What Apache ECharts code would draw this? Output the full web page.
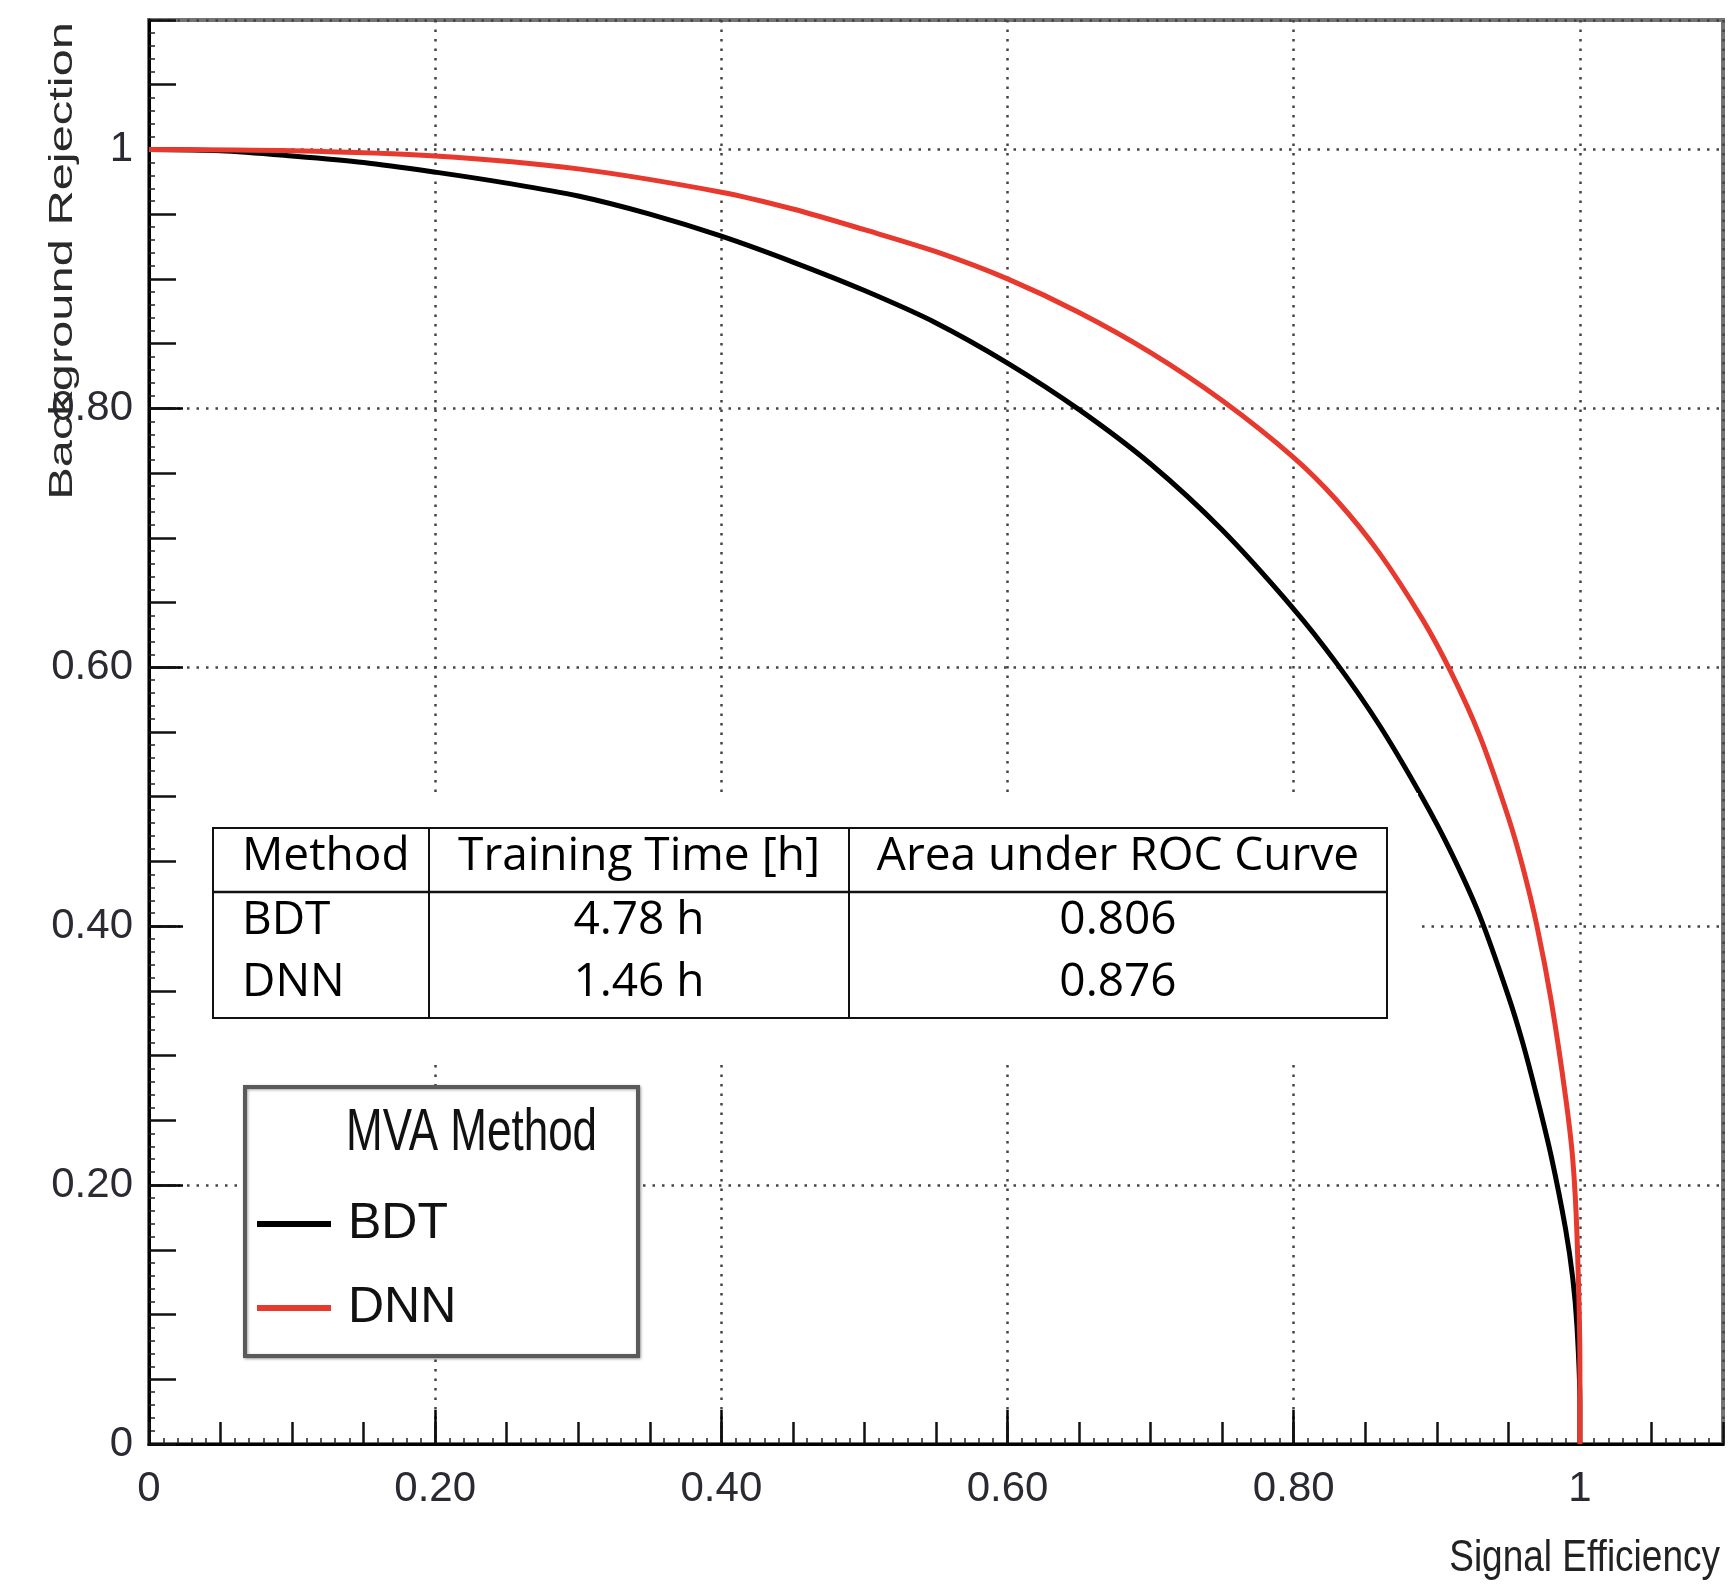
<!DOCTYPE html>
<html><head><meta charset="utf-8">
<script src="https://cdn.jsdelivr.net/npm/echarts@6/dist/echarts.min.js"></script>
<style>html,body{margin:0;padding:0;background:#fff}#c{width:1731px;height:1585px}</style>
</head><body><div id="c"></div>
<script>
// ---- data ----
const seriesNames = ['BDT', 'DNN'];
const bdtEff = [0, 0.05, 0.1, 0.15, 0.2, 0.25, 0.3, 0.35, 0.4, 0.45, 0.5, 0.55, 0.6, 0.65, 0.7, 0.75, 0.8, 0.83, 0.86, 0.89, 0.91, 0.93, 0.95, 0.96, 0.97, 0.98, 0.99, 0.995, 0.998, 1.0, 1.0];
const bdtRej = [1.0, 0.999, 0.995, 0.99, 0.9825, 0.974, 0.964, 0.95, 0.933, 0.913, 0.891, 0.866, 0.835, 0.799, 0.757, 0.706, 0.645, 0.603, 0.555, 0.499, 0.457, 0.408, 0.346, 0.31, 0.268, 0.222, 0.166, 0.128, 0.09, 0.03, 0];
const dnnEff = [0, 0.1, 0.2, 0.3, 0.4, 0.45, 0.5, 0.55, 0.6, 0.65, 0.7, 0.75, 0.8, 0.83, 0.86, 0.89, 0.91, 0.93, 0.95, 0.96, 0.97, 0.98, 0.99, 0.995, 0.998, 1.0, 1.0];
const dnnRej = [1.0, 0.999, 0.995, 0.985, 0.967, 0.954, 0.938, 0.921, 0.90, 0.874, 0.843, 0.806, 0.762, 0.729, 0.688, 0.637, 0.596, 0.547, 0.484, 0.446, 0.40, 0.342, 0.268, 0.22, 0.16, 0.06, 0];
const xTickLabels = ['0', '0.20', '0.40', '0.60', '0.80', '1'];
const yTickLabels = ['0', '0.20', '0.40', '0.60', '0.80', '1'];
const tableHeader = ['Method', 'Training Time [h]', 'Area under ROC Curve'];
const tableMethods = ['BDT', 'DNN'];
const trainingTimes = ['4.78 h', '1.46 h'];
const aucValues = ['0.806', '0.876'];
const legendTitle = 'MVA Method';
const xTitle = 'Signal Efficiency';
const yTitle = 'Background Rejection';

// ---- chart ----
const SANS = '"Liberation Sans", Arial, sans-serif';
const TABLEF = '"Open Sans", "Noto Sans", sans-serif';
function tickFmt(labels) {
  return function (v) {
    const i = Math.round(v / 0.2);
    if (Math.abs(v - i * 0.2) > 1e-6 || i >= labels.length) return '';
    return labels[i];
  };
}
const gridLine = { show: true, lineStyle: { color: '#444', width: 2.5, type: [2.5, 7] } };
function mainAxis(isX) {
  return {
    type: 'value', min: 0, max: 1.1, interval: 0.2,
    position: isX ? 'bottom' : 'left',
    axisLine: { show: true, lineStyle: { color: '#000', width: 3 } },
    axisTick: { show: true, inside: true, length: 34, lineStyle: { color: '#000', width: 2.5 } },
    minorTick: { show: false },
    splitLine: gridLine,
    axisLabel: {
      show: true, formatter: tickFmt(isX ? xTickLabels : yTickLabels),
      fontFamily: SANS, fontSize: 42, color: '#2a2a33', margin: isX ? 24 : 16,
      showMaxLabel: false
    }
  };
}
function fineAxis(isX) {
  return {
    type: 'value', min: 0, max: 1.1, interval: 0.05,
    position: isX ? 'bottom' : 'left',
    axisLine: { show: false },
    axisTick: { show: true, inside: true, length: isX ? 22 : 27, lineStyle: { color: '#111', width: 2.5 } },
    minorTick: { show: true, splitNumber: 5, length: 6, lineStyle: { color: '#222', width: 1.5 } },
    splitLine: { show: false },
    axisLabel: { show: false }
  };
}

const W = 1731, H = 1585;
const gLeft = 149, gTop = 20, gRight = 1723, gBottom = 1444;

// table geometry
const tb = { x: 213, y: 828, w: 1174, h: 190, col1: 429, col2: 849, headBottom: 892 };
const rowY = [857, 921, 983];
const graphics = [];
graphics.push({ type: 'rect', z: 20, shape: { x: 183, y: 793, width: 1235, height: 272 }, style: { fill: '#fff' } });
graphics.push({ type: 'rect', z: 21, shape: { x: tb.x, y: tb.y, width: tb.w, height: tb.h }, style: { fill: '#fff', stroke: '#111', lineWidth: 2 } });
graphics.push({ type: 'line', z: 22, shape: { x1: tb.x, y1: tb.headBottom, x2: tb.x + tb.w, y2: tb.headBottom }, style: { stroke: '#111', lineWidth: 2.5 } });
graphics.push({ type: 'line', z: 22, shape: { x1: tb.col1, y1: tb.y, x2: tb.col1, y2: tb.y + tb.h }, style: { stroke: '#111', lineWidth: 2 } });
graphics.push({ type: 'line', z: 22, shape: { x1: tb.col2, y1: tb.y, x2: tb.col2, y2: tb.y + tb.h }, style: { stroke: '#111', lineWidth: 2 } });
const colCenters = [null, (tb.col1 + tb.col2) / 2, (tb.col2 + tb.x + tb.w) / 2];
function cellText(txt, col, y) {
  const left = col === 0;
  graphics.push({ type: 'text', z: 23, x: left ? 242 : colCenters[col], y: y,
    style: { text: txt, fontFamily: TABLEF, fontSize: 46, fill: '#000', align: left ? 'left' : 'center', verticalAlign: 'middle' } });
}
tableHeader.forEach((t, i) => cellText(t, i, rowY[0]));
tableMethods.forEach((m, r) => {
  cellText(m, 0, rowY[r + 1]);
  cellText(trainingTimes[r], 1, rowY[r + 1]);
  cellText(aucValues[r], 2, rowY[r + 1]);
});
// legend box
graphics.push({ type: 'rect', z: 20, shape: { x: 245, y: 1087, width: 393, height: 269 },
  style: { fill: '#fff', stroke: '#5a5a5a', lineWidth: 4, shadowBlur: 3, shadowColor: 'rgba(0,0,0,0.35)', shadowOffsetX: 1, shadowOffsetY: 1 } });
graphics.push({ type: 'text', z: 31, x: 346, y: 1134, scaleY: 1.35,
  style: { text: legendTitle, fontFamily: SANS, fontSize: 44, fill: '#111', align: 'left', verticalAlign: 'middle' } });
// axis titles
graphics.push({ type: 'text', z: 31, x: 1720, y: 1559, scaleY: 1.2,
  style: { text: xTitle, fontFamily: SANS, fontSize: 37, fill: '#222', align: 'right', verticalAlign: 'middle' } });
graphics.push({ type: 'text', z: 31, x: 63, y: 22, rotation: Math.PI / 2, scaleX: 1.48,
  style: { text: yTitle, fontFamily: SANS, fontSize: 33, fill: '#2a2a2a', align: 'right', verticalAlign: 'middle' } });

const chart = echarts.init(document.getElementById('c'), null, { renderer: 'canvas', width: W, height: H });
chart.setOption({
  animation: false,
  backgroundColor: '#fff',
  grid: { left: gLeft, top: gTop, right: W - gRight, bottom: H - gBottom, show: true, borderColor: '#747474', borderWidth: 4, containLabel: false },
  xAxis: [mainAxis(true), fineAxis(true)],
  yAxis: [mainAxis(false), fineAxis(false)],
  legend: {
    orient: 'vertical', left: 252, top: 1193, itemWidth: 74, itemHeight: 6, itemGap: 32, icon: 'rect', z: 30,
    data: seriesNames,
    textStyle: { fontFamily: SANS, fontSize: 50, lineHeight: 52, color: '#111', padding: [0, 0, 0, 12] }
  },
  graphic: { elements: graphics },
  series: [
    { name: seriesNames[0], type: 'line', xAxisIndex: 0, yAxisIndex: 0, symbol: 'none', showSymbol: false, z: 3,
      smooth: 0.3,
      data: bdtEff.map((x, i) => [x, bdtRej[i]]), lineStyle: { color: '#000', width: 5 }, itemStyle: { color: '#000' } },
    { name: seriesNames[1], type: 'line', xAxisIndex: 0, yAxisIndex: 0, symbol: 'none', showSymbol: false, z: 4,
      smooth: 0.3,
      data: dnnEff.map((x, i) => [x, dnnRej[i]]), lineStyle: { color: '#e8392e', width: 5 }, itemStyle: { color: '#e8392e' } }
  ]
});
</script>
</body></html>
